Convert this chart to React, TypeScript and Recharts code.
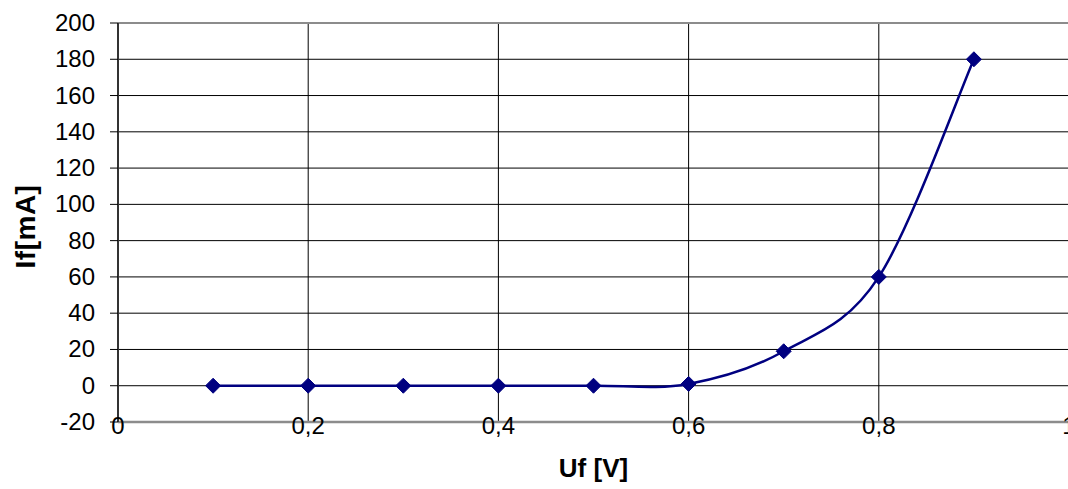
import React from 'react';
import { LineChart, Line, XAxis, YAxis, CartesianGrid, ReferenceLine } from 'recharts';

const voltages = [0.1, 0.2, 0.3, 0.4, 0.5, 0.6, 0.7, 0.8, 0.9];
const currents = [0, 0, 0, 0, 0, 1, 19, 60, 180];
const xTicks = [0, 0.2, 0.4, 0.6, 0.8, 1];
const yTicks = [-20, 0, 20, 40, 60, 80, 100, 120, 140, 160, 180, 200];

const data = voltages.map((u, i) => ({ u, i: currents[i] }));

const FONT = "'Liberation Sans', Arial, sans-serif";
const NAVY = '#000080';

// Excel-like smoothing (Catmull-Rom as cubic Bezier)
function excelCurve(context: any) {
  let pts: [number, number][] = [];
  return {
    areaStart() {},
    areaEnd() {},
    lineStart() {
      pts = [];
    },
    point(x: number, y: number) {
      pts.push([+x, +y]);
    },
    lineEnd() {
      const n = pts.length;
      if (!n) return;
      context.moveTo(pts[0][0], pts[0][1]);
      for (let k = 0; k < n - 1; k++) {
        const p0 = pts[k - 1] || pts[k];
        const p1 = pts[k];
        const p2 = pts[k + 1];
        const p3 = pts[k + 2] || p2;
        const c1x = p1[0] + (p2[0] - p0[0]) / 6;
        const c1y = p1[1] + (p2[1] - p0[1]) / 6;
        const c2x = p2[0] - (p3[0] - p1[0]) / 6;
        const c2y = p2[1] - (p3[1] - p1[1]) / 6;
        context.bezierCurveTo(c1x, c1y, c2x, c2y, p2[0], p2[1]);
      }
    },
  };
}

const Diamond = (props: any) => {
  const { cx, cy, index } = props;
  if (cx == null || cy == null) return <g key={index} />;
  const r = 7.5;
  return (
    <path
      key={index}
      d={`M${cx},${cy - r}L${cx + r},${cy}L${cx},${cy + r}L${cx - r},${cy}Z`}
      fill={NAVY}
      stroke={NAVY}
    />
  );
};

const XTick = (props: any) => {
  const { x, y, payload } = props;
  return (
    <text x={x} y={y + 12} textAnchor="middle" style={{ fontSize: 24, fontFamily: FONT }} fill="#000">
      {String(payload.value).replace('.', ',')}
    </text>
  );
};

const YTick = (props: any) => {
  const { x, y, payload } = props;
  return (
    <text x={x} y={y + 8} textAnchor="end" style={{ fontSize: 24, fontFamily: FONT }} fill="#000">
      {String(payload.value)}
    </text>
  );
};

const YLabel = (props: any) => {
  const vb = props.viewBox || {};
  const cx = vb.x + 17;
  const cy = vb.y + vb.height / 2 + 4;
  return (
    <text
      x={cx}
      y={cy}
      transform={`rotate(-90, ${cx}, ${cy})`}
      textAnchor="middle"
      dominantBaseline="central"
      style={{ fontSize: 28, fontWeight: 'bold', fontFamily: FONT, letterSpacing: 0.5 }}
      fill="#000"
    >
      If[mA]
    </text>
  );
};

const XLabel = (props: any) => {
  const vb = props.viewBox || {};
  return (
    <text
      x={vb.x + vb.width / 2}
      y={vb.y + 55}
      textAnchor="middle"
      style={{ fontSize: 26, fontWeight: 'bold', fontFamily: FONT }}
      fill="#000"
    >
      Uf [V]
    </text>
  );
};

export default function App() {
  return (
    <div style={{ position: 'absolute', left: 0, top: 0, width: 1068, height: 489, overflow: 'hidden', background: '#fff' }}>
      <LineChart width={1080} height={489} data={data} margin={{ top: 23, right: 11, bottom: 0, left: 8 }}>
        <CartesianGrid stroke="#000" strokeWidth={1} horizontalValues={yTicks} verticalValues={xTicks} />
        <ReferenceLine y={200} stroke="#8c8c8c" strokeWidth={2} />
        <XAxis
          dataKey="u"
          type="number"
          domain={[0, 1]}
          ticks={xTicks}
          interval={0}
          allowDataOverflow
          height={67}
          tickLine={false}
          tickSize={0}
          tickMargin={0}
          axisLine={{ stroke: '#8c8c8c', strokeWidth: 2.5 }}
          tick={<XTick />}
          label={<XLabel />}
        />
        <YAxis
          type="number"
          domain={[-20, 200]}
          ticks={yTicks}
          interval={0}
          width={110}
          tickSize={8}
          tickMargin={15}
          tickLine={{ stroke: '#000' }}
          axisLine={{ stroke: '#333', strokeWidth: 2 }}
          tick={<YTick />}
          label={<YLabel />}
        />
        <Line
          dataKey="i"
          type={excelCurve as any}
          stroke={NAVY}
          strokeWidth={2.5}
          dot={Diamond}
          activeDot={false}
          isAnimationActive={false}
        />
      </LineChart>
    </div>
  );
}
